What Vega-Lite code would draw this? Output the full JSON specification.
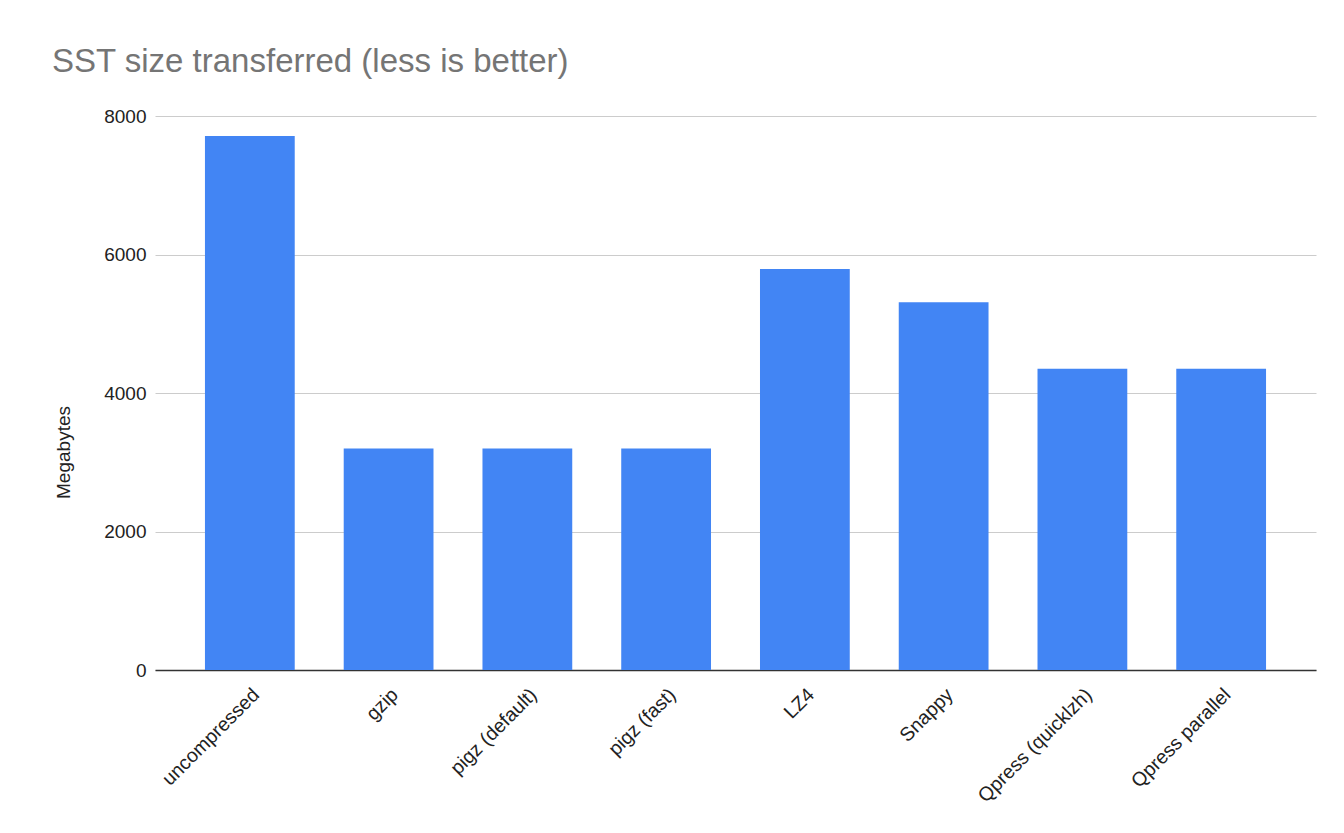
{
  "$schema": "https://vega.github.io/schema/vega-lite/v6.json",
  "width": 1161,
  "height": 554,
  "autosize": {"type": "none"},
  "padding": {"left": 155, "top": 116, "right": 28, "bottom": 163},
  "background": "#ffffff",
  "config": {
    "font": "Liberation Sans",
    "view": {"stroke": null}
  },
  "title": {
    "text": "SST size transferred (less is better)",
    "anchor": "start",
    "frame": "group",
    "dx": -103,
    "offset": 28,
    "fontSize": 33,
    "fontWeight": "normal",
    "color": "#757575",
    "font": "Liberation Sans"
  },
  "data": {
    "values": [
      {"method": "uncompressed", "mb": 7710},
      {"method": "gzip", "mb": 3200},
      {"method": "pigz (default)", "mb": 3200},
      {"method": "pigz (fast)", "mb": 3200},
      {"method": "LZ4", "mb": 5790},
      {"method": "Snappy", "mb": 5310},
      {"method": "Qpress (quicklzh)", "mb": 4350},
      {"method": "Qpress parallel", "mb": 4350}
    ]
  },
  "mark": {"type": "bar", "color": "#4285f4"},
  "encoding": {
    "x": {
      "field": "method",
      "type": "nominal",
      "sort": null,
      "scale": {"paddingInner": 0.353, "paddingOuter": 0.36},
      "axis": {
        "title": null,
        "labelAngle": -45,
        "labelFontSize": 19.5,
        "labelColor": "#222222",
        "labelPadding": 15,
        "ticks": false,
        "domain": true,
        "domainColor": "#333333",
        "domainWidth": 1.5,
        "grid": false
      }
    },
    "y": {
      "field": "mb",
      "type": "quantitative",
      "scale": {"domain": [0, 8000], "nice": false},
      "axis": {
        "title": "Megabytes",
        "titleFontSize": 19,
        "titleFontWeight": "normal",
        "titleColor": "#222222",
        "titlePadding": 26,
        "titleY": 336,
        "titleX": -92,
        "titleAlign": "center",
        "titleBaseline": "middle",
        "values": [0, 2000, 4000, 6000, 8000],
        "format": "d",
        "labelFontSize": 19,
        "labelColor": "#222222",
        "labelPadding": 9,
        "ticks": false,
        "domain": false,
        "gridColor": "#cccccc",
        "gridWidth": 1
      }
    }
  }
}
